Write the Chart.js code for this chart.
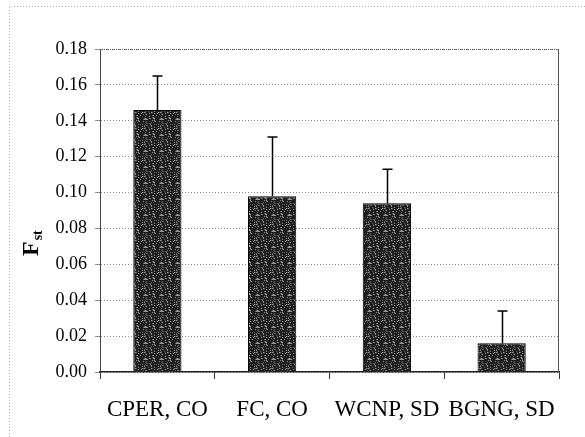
<!DOCTYPE html>
<html>
<head>
<meta charset="utf-8">
<script src="https://cdn.jsdelivr.net/npm/chart.js@4"></script>
<style>
  html, body { margin: 0; padding: 0; background: #fff; }
  #wrap { width: 585px; height: 437px; }
</style>
</head>
<body>
<div id="wrap"><canvas id="chart" width="585" height="437"></canvas></div>
<script>
// data
const sites = ["CPER, CO", "FC, CO", "WCNP, SD", "BGNG, SD"];
const fst = [0.146, 0.098, 0.094, 0.016];
const fstErrTop = [0.165, 0.131, 0.113, 0.034];
const yTicks = [0, 0.02, 0.04, 0.06, 0.08, 0.10, 0.12, 0.14, 0.16, 0.18];

const SERIF = "'Liberation Serif', 'DejaVu Serif', serif";

// speckled dark fill like the scanned bars
function makeSpeckle() {
  const c = document.createElement("canvas");
  c.width = 16; c.height = 16;
  const g = c.getContext("2d");
  g.fillStyle = "#1e1e1e";
  g.fillRect(0, 0, 16, 16);
  for (let y = 0; y < 16; y++) {
    for (let x = 0; x < 16; x++) {
      const h = ((x * 73856093) ^ (y * 19349663) ^ (x * y * 83492791)) >>> 0;
      const v = h % 7;
      if (v === 0 || v === 3) {
        g.fillStyle = v === 0 ? "#9a9a9a" : "#5e5e5e";
        g.fillRect(x, y, 1, 1);
      }
    }
  }
  return g.createPattern(c, "repeat");
}

const decor = {
  id: "decor",
  beforeDraw(chart) {
    const ctx = chart.ctx;
    ctx.save();
    // dotted outer frame of the scanned figure
    ctx.strokeStyle = "#b0b0b0";
    ctx.lineWidth = 1;
    ctx.setLineDash([1, 2]);
    ctx.beginPath();
    ctx.moveTo(9.5, 437);
    ctx.lineTo(9.5, 6.5);
    ctx.lineTo(585, 6.5);
    ctx.stroke();
    ctx.restore();
  },
  afterDatasetsDraw(chart) {
    const ctx = chart.ctx;
    const a = chart.chartArea;
    const meta = chart.getDatasetMeta(0);
    const y = chart.scales.y;
    ctx.save();
    // plot frame: top dotted, right solid
    ctx.strokeStyle = "#555";
    ctx.lineWidth = 1;
    ctx.setLineDash([1, 1]);
    ctx.beginPath();
    ctx.moveTo(a.left, a.top + 0.5);
    ctx.lineTo(a.right, a.top + 0.5);
    ctx.stroke();
    ctx.setLineDash([]);
    ctx.beginPath();
    ctx.moveTo(a.right - 0.5, a.top);
    ctx.lineTo(a.right - 0.5, a.bottom);
    ctx.stroke();
    // upward error bars
    ctx.strokeStyle = "#000";
    ctx.lineWidth = 1.5;
    meta.data.forEach((bar, i) => {
      const x = Math.round(bar.x) + 0.5;
      const yTop = y.getPixelForValue(fstErrTop[i]);
      ctx.beginPath();
      ctx.moveTo(x, bar.y);
      ctx.lineTo(x, yTop);
      ctx.moveTo(x - 5, yTop);
      ctx.lineTo(x + 5, yTop);
      ctx.stroke();
    });
    // y title: bold F with subscript st
    ctx.fillStyle = "#000";
    ctx.translate(38, 256);
    ctx.rotate(-Math.PI / 2);
    ctx.textBaseline = "alphabetic";
    ctx.textAlign = "left";
    ctx.font = "bold 24px " + SERIF;
    ctx.fillText("F", 0, 0);
    const w = ctx.measureText("F").width;
    ctx.font = "bold 14px " + SERIF;
    ctx.fillText("st", w + 1, 4);
    ctx.restore();
  }
};

const ctx = document.getElementById("chart").getContext("2d");
new Chart(ctx, {
  type: "bar",
  data: {
    labels: sites,
    datasets: [{
      data: fst,
      backgroundColor: makeSpeckle(),
      borderColor: "#000",
      borderWidth: 1,
      barPercentage: 0.42,
      categoryPercentage: 1.0
    }]
  },
  options: {
    responsive: false,
    animation: false,
    layout: { padding: { top: 49, right: 26, left: 0, bottom: 0 } },
    plugins: { legend: { display: false }, tooltip: { enabled: false } },
    scales: {
      x: {
        grid: { drawOnChartArea: false, drawTicks: true, tickLength: 7, color: "#333", offset: true },
        border: { color: "#222", width: 1.5 },
        ticks: { color: "#000", font: { family: SERIF, size: 23 }, padding: 17, maxRotation: 0 },
        afterFit(s) { s.height = 65; }
      },
      y: {
        min: 0,
        max: 0.18,
        afterBuildTicks(s) { s.ticks = yTicks.map(v => ({ value: v })); },
        grid: { color: "#8a8a8a", tickLength: 5, drawTicks: true },
        border: { color: "#444", width: 1, dash: [1, 2] },
        ticks: {
          color: "#000",
          font: { family: SERIF, size: 18 },
          padding: 8,
          callback: v => v.toFixed(2)
        },
        afterFit(s) { s.width = 100; }
      }
    }
  },
  plugins: [decor]
});
</script>
</body>
</html>
